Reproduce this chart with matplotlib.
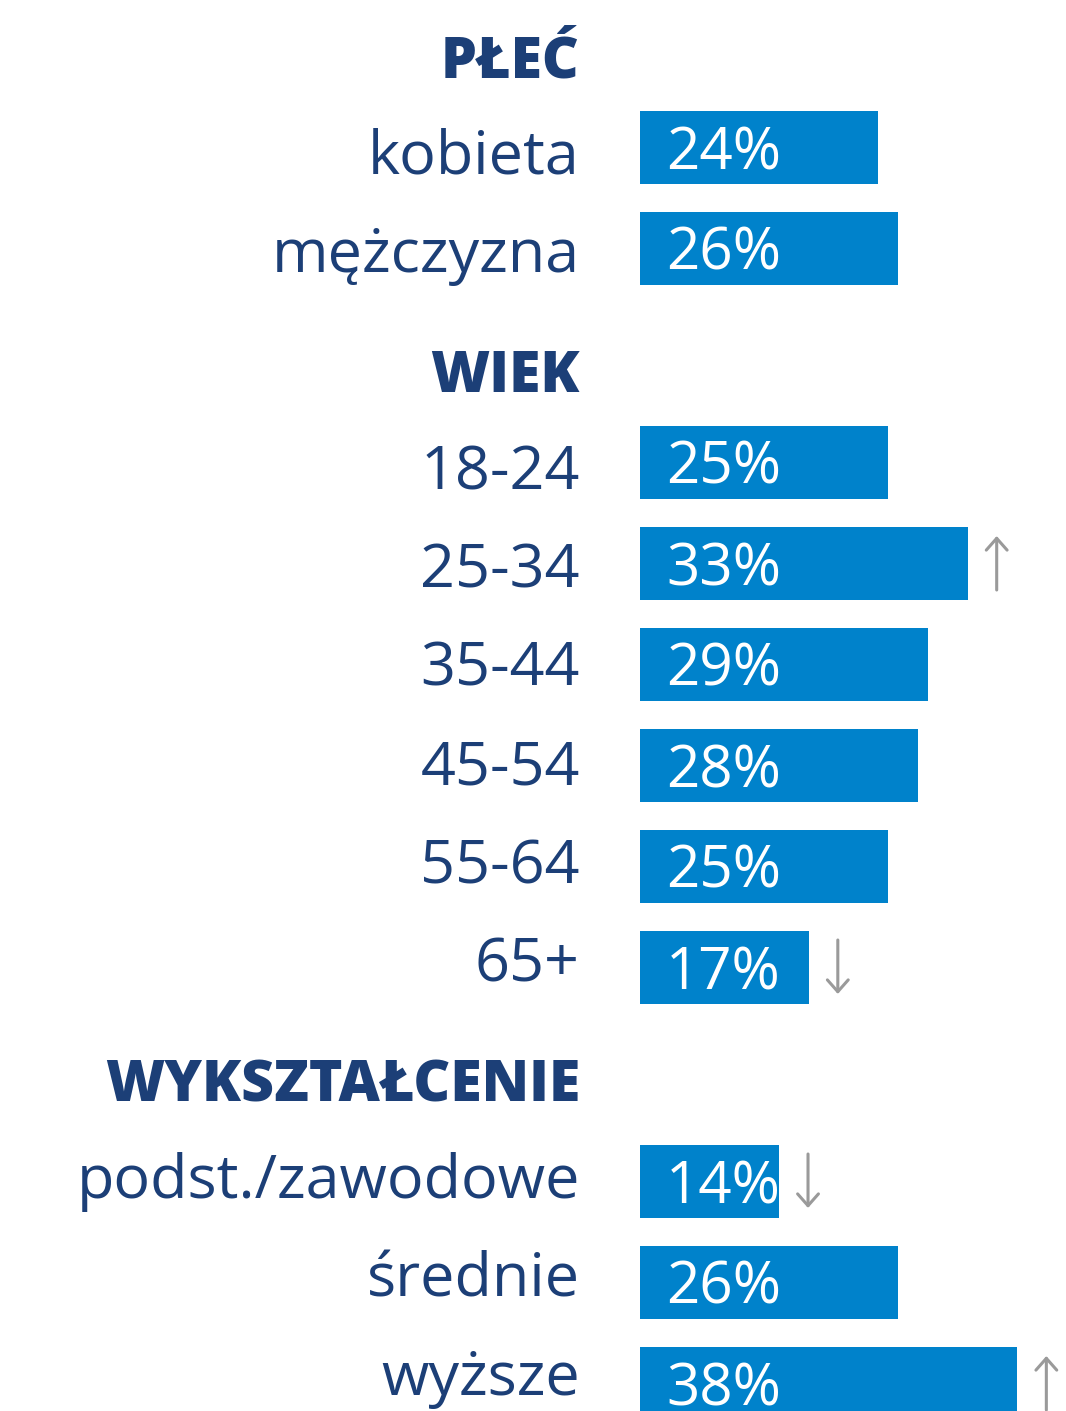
import numpy as np
import matplotlib.pyplot as plt

# grupy i kategorie
groups = ['PŁEĆ', 'WIEK', 'WYKSZTAŁCENIE']
categories = [
    ['kobieta', 'mężczyzna'],
    ['18-24', '25-34', '35-44', '45-54', '55-64', '65+'],
    ['podst./zawodowe', 'średnie', 'wyższe'],
]
values = [
    [24, 26],
    [25, 33, 29, 28, 25, 17],
    [14, 26, 38],
]
# kierunek zmiany: 1 - wzrost, -1 - spadek, 0 - bez strzałki
trends = [
    [0, 0],
    [0, 1, 0, 0, 0, -1],
    [-1, 0, 1],
]

BAR_COLOR = '#0082cb'
TEXT_COLOR = '#1c3f77'
ARROW_COLOR = '#9a9a9a'
FONT = ['Open Sans', 'DejaVu Sans']

W, H = 1066, 1411
fig = plt.figure(figsize=(W / 100, H / 100), dpi=100)
ax = fig.add_axes([0, 0, 1, 1])

px = 9.93          # pikseli na 1%
x0 = 640           # początek słupków
ax.set_xlim(-x0 / px, (W - x0) / px)
ax.set_ylim(H, 0)
ax.axis('off')

# słupki i podpisy mają nieco inny rozstaw wierszy
pitch, gap, y = 101, 113, 147
lab_pitch, lab_gap, ly = 98.5, 118, 174
bar_h = 73
lab_x = (580 - x0) / px

for g, name in enumerate(groups):
    ax.text(lab_x, ly - 97, name, ha='right', va='baseline', fontsize=41,
            fontweight='heavy', color=TEXT_COLOR, family=FONT)
    for cat, v, tr in zip(categories[g], values[g], trends[g]):
        ax.barh(y, v, height=bar_h, left=0, color=BAR_COLOR)
        ax.text(lab_x, ly, cat, ha='right', va='baseline', fontsize=44,
                color=TEXT_COLOR, family=FONT)
        ax.text(26 / px, y + 22, f'{v}%', ha='left', va='baseline',
                fontsize=42, color='white', family=FONT)
        if tr:
            ax_x = v + 29 / px
            y_from, y_to = (y + 27, y - 27) if tr > 0 else (y - 27, y + 27)
            ax.annotate('', xy=(ax_x, y_to), xytext=(ax_x, y_from),
                        arrowprops=dict(arrowstyle='->,head_length=0.85,head_width=0.75',
                                        color=ARROW_COLOR, lw=2.2,
                                        shrinkA=0, shrinkB=0))
        y += pitch
        ly += lab_pitch
    y += gap
    ly += lab_gap

fig.savefig('out.png', dpi=100)
